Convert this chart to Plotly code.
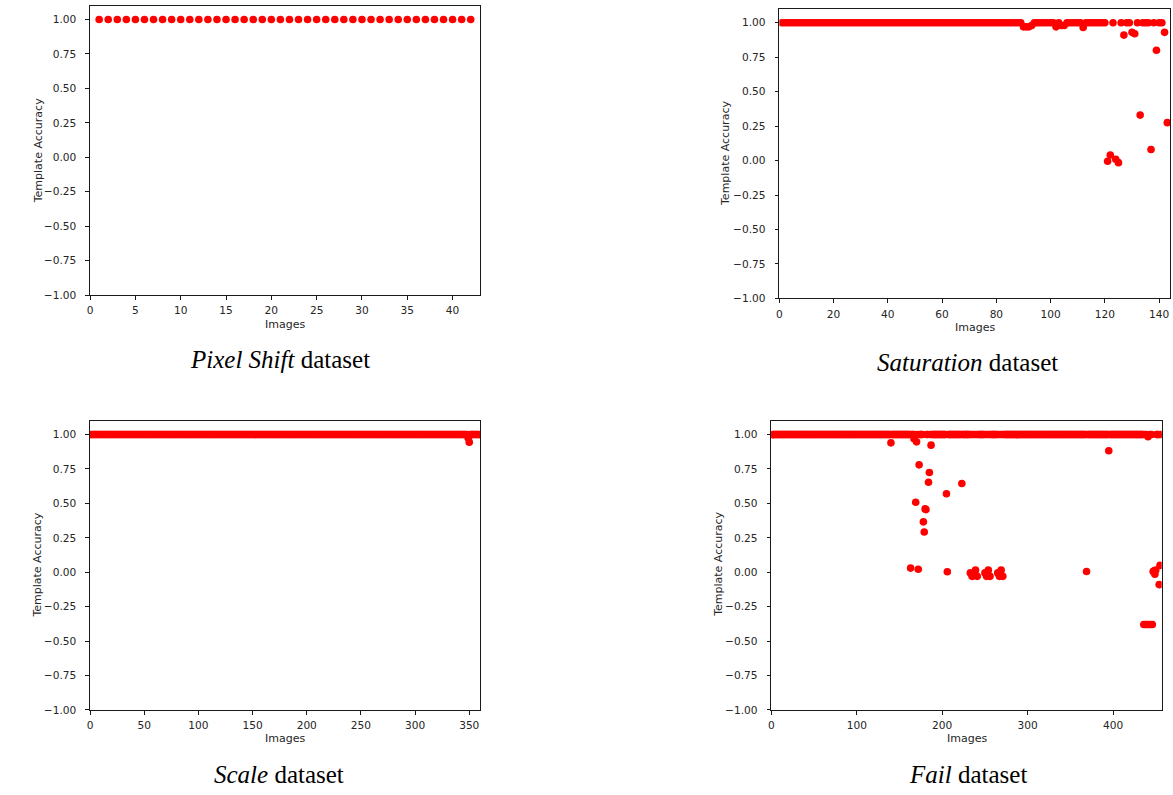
import plotly.graph_objects as go

W, H = 1173, 795

# ---------------- data (template accuracy per image) ----------------
pixel_shift_acc = [
    1, 1, 1, 1, 1, 1, 1, 1, 1, 1,   # 1-10
    1, 1, 1, 1, 1, 1, 1, 1, 1, 1,   # 11-20
    1, 1, 1, 1, 1, 1, 1, 1, 1, 1,   # 21-30
    1, 1, 1, 1, 1, 1, 1, 1, 1, 1,   # 31-40
    1, 1,                           # 41-42
]

saturation_acc = [
    1, 1, 1, 1, 1, 1, 1, 1, 1, 1,                      # 1-10
    1, 1, 1, 1, 1, 1, 1, 1, 1, 1,                      # 11-20
    1, 1, 1, 1, 1, 1, 1, 1, 1, 1,                      # 21-30
    1, 1, 1, 1, 1, 1, 1, 1, 1, 1,                      # 31-40
    1, 1, 1, 1, 1, 1, 1, 1, 1, 1,                      # 41-50
    1, 1, 1, 1, 1, 1, 1, 1, 1, 1,                      # 51-60
    1, 1, 1, 1, 1, 1, 1, 1, 1, 1,                      # 61-70
    1, 1, 1, 1, 1, 1, 1, 1, 1, 1,                      # 71-80
    1, 1, 1, 1, 1, 1, 1, 1, 1, 0.97,                   # 81-90
    0.97, 0.97, 0.98, 1, 1, 1, 1, 1, 1, 1,             # 91-100
    1, 0.97, 1, 0.98, 0.98, 1, 1, 1, 1, 1,             # 101-110
    1, 0.965, 1, 1, 1, 1, 1, 1, 1, 1,                  # 111-120
    -0.005, 0.04, 1, 0.01, -0.015, 1, 0.91, 1, 1, 0.93,  # 121-130
    0.92, 1, 0.33, 1, 1, 1, 0.08, 1, 0.80, 1,          # 131-140
    1, 0.93, 0.275,                                    # 141-143
]

scale_acc = [
    1, 1, 1, 1, 1, 1, 1, 1, 1, 1, 1, 1, 1, 1, 1, 1, 1, 1, 1, 1,   # 1-20
    1, 1, 1, 1, 1, 1, 1, 1, 1, 1, 1, 1, 1, 1, 1, 1, 1, 1, 1, 1,   # 21-40
    1, 1, 1, 1, 1, 1, 1, 1, 1, 1, 1, 1, 1, 1, 1, 1, 1, 1, 1, 1,   # 41-60
    1, 1, 1, 1, 1, 1, 1, 1, 1, 1, 1, 1, 1, 1, 1, 1, 1, 1, 1, 1,   # 61-80
    1, 1, 1, 1, 1, 1, 1, 1, 1, 1, 1, 1, 1, 1, 1, 1, 1, 1, 1, 1,   # 81-100
    1, 1, 1, 1, 1, 1, 1, 1, 1, 1, 1, 1, 1, 1, 1, 1, 1, 1, 1, 1,   # 101-120
    1, 1, 1, 1, 1, 1, 1, 1, 1, 1, 1, 1, 1, 1, 1, 1, 1, 1, 1, 1,   # 121-140
    1, 1, 1, 1, 1, 1, 1, 1, 1, 1, 1, 1, 1, 1, 1, 1, 1, 1, 1, 1,   # 141-160
    1, 1, 1, 1, 1, 1, 1, 1, 1, 1, 1, 1, 1, 1, 1, 1, 1, 1, 1, 1,   # 161-180
    1, 1, 1, 1, 1, 1, 1, 1, 1, 1, 1, 1, 1, 1, 1, 1, 1, 1, 1, 1,   # 181-200
    1, 1, 1, 1, 1, 1, 1, 1, 1, 1, 1, 1, 1, 1, 1, 1, 1, 1, 1, 1,   # 201-220
    1, 1, 1, 1, 1, 1, 1, 1, 1, 1, 1, 1, 1, 1, 1, 1, 1, 1, 1, 1,   # 221-240
    1, 1, 1, 1, 1, 1, 1, 1, 1, 1, 1, 1, 1, 1, 1, 1, 1, 1, 1, 1,   # 241-260
    1, 1, 1, 1, 1, 1, 1, 1, 1, 1, 1, 1, 1, 1, 1, 1, 1, 1, 1, 1,   # 261-280
    1, 1, 1, 1, 1, 1, 1, 1, 1, 1, 1, 1, 1, 1, 1, 1, 1, 1, 1, 1,   # 281-300
    1, 1, 1, 1, 1, 1, 1, 1, 1, 1, 1, 1, 1, 1, 1, 1, 1, 1, 1, 1,   # 301-320
    1, 1, 1, 1, 1, 1, 1, 1, 1, 1, 1, 1, 1, 1, 1, 1, 1, 1, 1, 1,   # 321-340
    1, 1, 1, 1, 1, 1, 1, 1, 0.975, 0.945, 1, 1, 1, 1, 1, 1, 1, 1, 1,  # 341-359
]

fail_acc = [
    1, 1, 1, 1, 1, 1, 1, 1, 1, 1, 1, 1, 1, 1, 1, 1, 1, 1, 1, 1,   # 1-20
    1, 1, 1, 1, 1, 1, 1, 1, 1, 1, 1, 1, 1, 1, 1, 1, 1, 1, 1, 1,   # 21-40
    1, 1, 1, 1, 1, 1, 1, 1, 1, 1, 1, 1, 1, 1, 1, 1, 1, 1, 1, 1,   # 41-60
    1, 1, 1, 1, 1, 1, 1, 1, 1, 1, 1, 1, 1, 1, 1, 1, 1, 1, 1, 1,   # 61-80
    1, 1, 1, 1, 1, 1, 1, 1, 1, 1, 1, 1, 1, 1, 1, 1, 1, 1, 1, 1,   # 81-100
    1, 1, 1, 1, 1, 1, 1, 1, 1, 1, 1, 1, 1, 1, 1, 1, 1, 1, 1, 1,   # 101-120
    1, 1, 1, 1, 1, 1, 1, 1, 1, 1, 1, 1, 1, 1, 1, 1, 1, 1, 1, 0.94,  # 121-140
    1, 1, 1, 1, 1, 1, 1, 1, 1, 1, 1, 1, 1, 1, 1, 1, 1, 1, 1, 1,   # 141-160
    1, 1, 0.03, 1, 1, 1, 0.97, 1, 0.508, 0.947,
    1, 0.022, 0.78, 1, 1, 1, 1, 0.366, 0.292, 0.46,               # 161-180
    0.455, 1, 1, 0.654, 0.724, 1, 0.923, 1, 1, 1,
    1, 1, 1, 1, 1, 1, 1, 1, 1, 1,                                 # 181-200
    1, 1, 1, 1, 0.57, 0.003, 1, 1, 1, 1,
    1, 1, 1, 1, 1, 1, 1, 1, 1, 1,                                 # 201-220
    1, 1, 0.645, 1, 1, 1, 1, 1, 1, 1,
    1, 1, -0.005, 1, -0.03, 1, -0.025, 1, 0.015, 1,               # 221-240
    -0.03, 1, 1, 1, 1, 1, 1, 1, 1, -0.005,
    1, -0.03, 1, 0.015, 1, -0.03, 1, 1, 1, 1,                     # 241-260
    1, 1, 1, 1, -0.005, 1, -0.03, 1, 0.015, 1,
    -0.03, 1, 1, 1, 1, 1, 1, 1, 1, 1,                             # 261-280
    1, 1, 1, 1, 1, 1, 1, 1, 1, 1, 1, 1, 1, 1, 1, 1, 1, 1, 1, 1,   # 281-300
    1, 1, 1, 1, 1, 1, 1, 1, 1, 1, 1, 1, 1, 1, 1, 1, 1, 1, 1, 1,   # 301-320
    1, 1, 1, 1, 1, 1, 1, 1, 1, 1, 1, 1, 1, 1, 1, 1, 1, 1, 1, 1,   # 321-340
    1, 1, 1, 1, 1, 1, 1, 1, 1, 1, 1, 1, 1, 1, 1, 1, 1, 1, 1, 1,   # 341-360
    1, 1, 1, 1, 1, 1, 1, 1, 0.005, 1, 1, 1, 1, 1, 1, 1, 1, 1, 1, 1,  # 361-380
    1, 1, 1, 1, 1, 1, 1, 1, 1, 1, 1, 1, 1, 1, 0.882, 1, 1, 1, 1, 1,  # 381-400
    1, 1, 1, 1, 1, 1, 1, 1, 1, 1, 1, 1, 1, 1, 1, 1, 1, 1, 1, 1,   # 401-420
    1, 1, 1, 1, 1, 1, 1, 1, 1, 1, 1, 1, 1, 1, 1,
    -0.38, 1, -0.38, 1, -0.38,                                    # 421-440
    0.985, -0.38, 1, -0.38, 1, -0.38, 0.005, 0.01, -0.015, 0.015,
    1, 1, 1, -0.09, 0.05, 1,                                      # 441-456
]

y_ticks = [-1.0, -0.75, -0.5, -0.25, 0.0, 0.25, 0.5, 0.75, 1.0]
y_range = [-1.0, 1.1]

captions = ["<i>Pixel Shift</i> dataset", "<i>Saturation</i> dataset",
            "<i>Scale</i> dataset", "<i>Fail</i> dataset"]
series = [pixel_shift_acc, saturation_acc, scale_acc, fail_acc]
x_dticks = [5, 20, 50, 100]

# ---------------- layout geometry (pixels) ----------------
# (left, right, top, bottom) of each axes box
boxes = [(87.3, 478.0, 5.7, 297.3),
         (778.3, 1170.0, 9.0, 300.7),
         (87.3, 478.3, 424.0, 715.3),
         (770.3, 1161.7, 424.0, 715.3)]
ytitle_pos = [(35, 151.5), (725, 155), (35, 569), (718, 569)]
xtitle_pos = [(282.7, 327), (974, 330), (282.8, 744.5), (966, 744.5)]
caption_pos = [(277.5, 362), (966.7, 365), (276.5, 780), (967, 780)]

TICKFONT = dict(family="DejaVu Sans", size=10.6, color="#262626")
TITLEFONT = dict(family="DejaVu Sans", size=11, color="#262626")

fig = go.Figure()
layout = dict(width=W, height=H, margin=dict(l=0, r=0, t=0, b=0),
              paper_bgcolor="white", plot_bgcolor="white", showlegend=False,
              annotations=[])

for i, (vals, dt, box) in enumerate(zip(series, x_dticks, boxes)):
    n = i + 1
    sfx = "" if n == 1 else str(n)
    xs = list(range(1, len(vals) + 1))
    fig.add_trace(go.Scatter(
        x=xs, y=vals, mode="markers",
        marker=dict(color="#ff0000", size=7.6, line=dict(width=0)),
        xaxis="x" + sfx, yaxis="y" + sfx, cliponaxis=True,
    ))
    l, r, t, b = box
    common = dict(showline=True, mirror=True, linecolor="#1a1a1a", linewidth=1,
                  ticks="outside", ticklen=3.7, tickwidth=1, tickcolor="#1a1a1a",
                  showgrid=False, zeroline=False, tickfont=TICKFONT)
    layout["xaxis" + sfx] = dict(domain=[l / W, r / W], anchor="y" + sfx,
                                 range=[0, len(vals) + 1], tick0=0, dtick=dt,
                                 ticklabelstandoff=2, **common)
    layout["yaxis" + sfx] = dict(domain=[1 - b / H, 1 - t / H], anchor="x" + sfx,
                                 range=y_range, tickvals=y_ticks, tickformat=".2f",
                                 ticklabelstandoff=7, **common)
    yx, yy = ytitle_pos[i]
    layout["annotations"].append(dict(
        text="Template Accuracy", x=yx / W, y=1 - yy / H, xref="paper", yref="paper",
        textangle=-90, showarrow=False, xanchor="center", yanchor="middle",
        font=TITLEFONT))
    xx, xy = xtitle_pos[i]
    layout["annotations"].append(dict(
        text="Images", x=xx / W, y=1 - xy / H, xref="paper", yref="paper",
        showarrow=False, xanchor="center", yanchor="middle", font=TITLEFONT))
    cx, cy = caption_pos[i]
    layout["annotations"].append(dict(
        text=captions[i], x=cx / W, y=1 - cy / H, xref="paper", yref="paper",
        showarrow=False, xanchor="center", yanchor="middle",
        font=dict(family="Liberation Serif", size=25, color="black")))

fig.update_layout(**layout)
fig.write_html("out.html")
